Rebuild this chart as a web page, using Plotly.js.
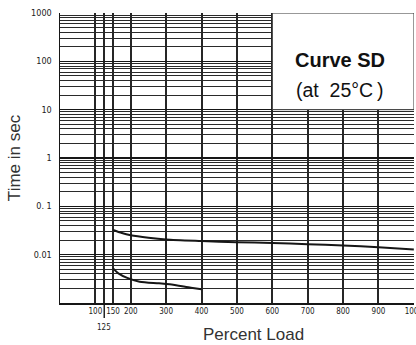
<!DOCTYPE html>
<html>
<head>
<meta charset="utf-8">
<script src="https://cdn.plot.ly/plotly-3.0.1.min.js"></script>
<style>
  html, body { margin: 0; padding: 0; background: #fff; }
  #chart { width: 416px; height: 345px; }
</style>
</head>
<body>
<div id="chart"></div>
<script>
// Fuse time-current characteristic, curve SD at 25 °C
const loadUpper = [150, 175, 200, 250, 300, 400, 500, 600, 700, 800, 900, 1000];
const timeUpper = [0.0324, 0.028, 0.0253, 0.0225, 0.0207, 0.0192, 0.0181, 0.0175, 0.0165, 0.0155, 0.0142, 0.0128];

const loadLower = [150, 165, 190, 225, 280, 310, 370, 400];
const timeLower = [0.0052, 0.0041, 0.0033, 0.00275, 0.00255, 0.00243, 0.00207, 0.00192];

const xTickVals = [100, 150, 200, 300, 400, 500, 600, 700, 800, 900, 1000];
const xTickText = ['100', '150', '200', '300', '400', '500', '600', '700', '800', '900', '1000'];
const yTickVals = [0.01, 0.1, 1, 10, 100, 1000];
const yTickText = ['0.01', '0. 1', '1', '10', '100', '1000'];
const extraLoadTick = 125;

// log paper rulings: 2..9 within every decade
const yMinorVals = [];
for (let e = -3; e <= 2; e++) {
  for (let m = 2; m <= 9; m++) yMinorVals.push(m * Math.pow(10, e));
}

const sans = '"Liberation Sans", Arial, sans-serif';
const cond = '"DejaVu Sans Condensed", "Liberation Sans", sans-serif';
const ink = '#161616';

const traces = [
  { x: loadUpper, y: timeUpper, type: 'scatter', mode: 'lines',
    line: { color: ink, width: 2, shape: 'spline', smoothing: 0.8 }, hoverinfo: 'skip' },
  { x: loadLower, y: timeLower, type: 'scatter', mode: 'lines',
    line: { color: ink, width: 2, shape: 'spline', smoothing: 0.8 }, hoverinfo: 'skip' }
];

const layout = {
  width: 416, height: 345,
  margin: { l: 60, r: 2, t: 13, b: 42 },
  paper_bgcolor: '#fff', plot_bgcolor: '#fff',
  showlegend: false,
  xaxis: {
    range: [0, 1000.5],
    tickmode: 'array', tickvals: xTickVals.concat([extraLoadTick]), ticktext: xTickText.concat(['']),
    tickangle: 0, ticklabeloverflow: 'allow',
    showgrid: true, gridcolor: '#262626', gridwidth: 2,
    showline: true, linecolor: ink, linewidth: 1.5,
    zeroline: false, ticks: '',
    tickfont: { family: cond, size: 8, color: '#222' }
  },
  yaxis: {
    type: 'log', range: [-3, 3],
    tickmode: 'array', tickvals: yTickVals, ticktext: yTickText,
    showgrid: true, gridcolor: ink, gridwidth: 1.3,
    minor: { tickmode: 'array', tickvals: yMinorVals, showgrid: true, gridcolor: '#2a2a2a', gridwidth: 1, ticks: '' },
    showline: true, linecolor: ink, linewidth: 1.5,
    zeroline: false,
    ticks: 'outside', ticklen: 5, tickcolor: 'rgba(0,0,0,0)',
    tickfont: { family: cond, size: 9, color: '#222' },
    title: { text: 'Time in sec', font: { family: sans, size: 17, color: '#333' }, standoff: 6 }
  },
  shapes: [
    // legend panel in the upper right
    { type: 'rect', xref: 'x', yref: 'y', x0: 600, x1: 1000.5, y0: 10, y1: 1000,
      fillcolor: '#fff', line: { color: '#333', width: 1 }, layer: 'above' },
    // 125 % ruling carried below the axis
    { type: 'line', xref: 'x', yref: 'paper', x0: extraLoadTick, x1: extraLoadTick, y0: 0, y1: -0.052,
      line: { color: ink, width: 1.4 } }
  ],
  annotations: [
    { text: '<b>Curve SD</b>', xref: 'x', yref: 'y', x: 792, y: Math.log10(106),
      showarrow: false, font: { family: sans, size: 20, color: '#111' } },
    { text: '(at\u00a0\u00a025\u00b0C\u2009)', xref: 'x', yref: 'y', x: 792, y: Math.log10(25),
      showarrow: false, font: { family: sans, size: 19.5, color: '#111' } },
    { text: String(extraLoadTick), xref: 'x', yref: 'paper', x: extraLoadTick, y: -0.086,
      yanchor: 'middle', showarrow: false, font: { family: cond, size: 8, color: '#222' } },
    // x-axis title, set right of centre
    { text: 'Percent Load', xref: 'x', yref: 'paper', x: 546, y: -0.107,
      yanchor: 'middle', showarrow: false, font: { family: sans, size: 17, color: '#333' } }
  ]
};

Plotly.newPlot('chart', traces, layout, { staticPlot: true, displayModeBar: false });
</script>
</body>
</html>
